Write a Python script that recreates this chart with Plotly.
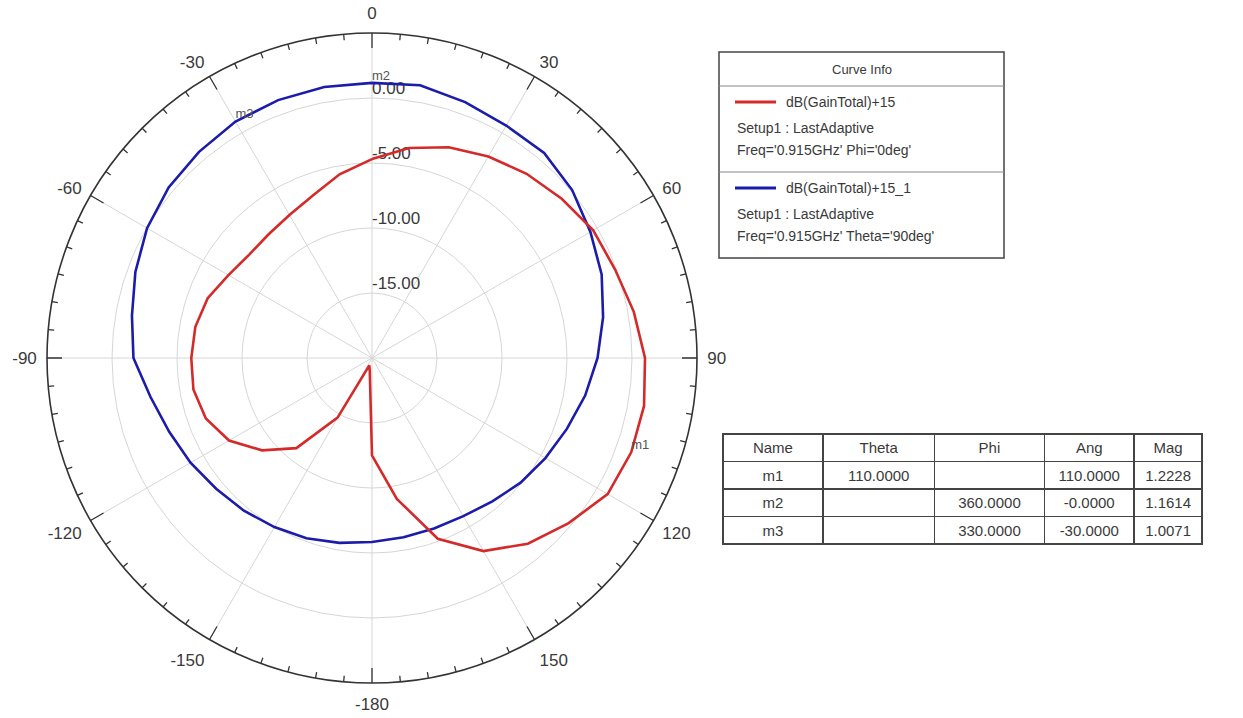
import plotly.graph_objects as go

# ---------------- data ----------------
# red curve: dB(GainTotal)+15, Phi = 0deg, swept over Theta (deg)
red_theta = [0, 10, 20, 30, 40, 50, 60, 70, 80, 90, 100, 110, 120, 130, 140, 150, 160, 170, 180,
             190, 200, 210, 220, 230, 240, 250, 260, 270, 280, 290, 300, 310, 320, 330, 340, 350, 360]
red_db = [-4.7, -3.6, -2.75, -2.1, -1.5, -0.95, -0.35, -0.1, 0.45, 1.0, 1.25, 1.22, 0.93, -0.25, -1.35,
          -2.85, -5.2, -9.0, -12.5, -19.0, -19.4, -14.7, -10.95, -8.95, -7.3, -6.4, -6.05, -6.1, -6.2,
          -6.55, -7.25, -7.65, -7.6, -7.3, -6.7, -5.65, -4.7]

# blue curve: dB(GainTotal)+15_1, Theta = 90deg, swept over Phi (deg)
blue_phi = [0, 10, 20, 30, 40, 50, 60, 70, 80, 90, 100, 110, 120, 130, 140, 150, 160, 170, 180,
            190, 200, 210, 220, 230, 240, 250, 260, 270, 280, 290, 300, 310, 320, 330, 340, 350, 360]
blue_db = [1.16, 1.3, 0.95, 0.65, 0.6, 0.1, -0.6, -1.2, -1.95, -2.65, -3.35, -4.05, -4.6, -5.08, -5.6,
           -5.95, -6.05, -6.0, -5.85, -5.56, -5.25, -4.98, -4.67, -4.35, -3.88, -3.4, -2.7, -1.65,
           -1.25, -0.63, -0.02, 0.42, 0.7, 1.0, 1.11, 1.17, 1.16]

angle_ticks = [0, 30, 60, 90, 120, 150, 180, 210, 240, 270, 300, 330]
angle_labels = ["0", "30", "60", "90", "120", "150", "-180", "-150", "-120", "-90", "-60", "-30"]
minor_step = 5
r_range = [-20, 5]
r_ticks = [-15, -10, -5, 0]
r_labels = ["-15.00", "-10.00", "-5.00", "0.00"]

marker_names = ["m1", "m2", "m3"]
marker_ang = [110, 0, -30]
marker_mag = [1.2228, 1.1614, 1.0071]

legend_header = "Curve Info"
legend_names = ["dB(GainTotal)+15", "dB(GainTotal)+15_1"]
legend_line2 = ["Setup1 : LastAdaptive", "Setup1 : LastAdaptive"]
legend_line3 = ["Freq='0.915GHz' Phi='0deg'", "Freq='0.915GHz' Theta='90deg'"]

table_header = ["Name", "Theta", "Phi", "Ang", "Mag"]
table_name = ["m1", "m2", "m3"]
table_theta = ["110.0000", "", ""]
table_phi = ["", "360.0000", "330.0000"]
table_ang = ["110.0000", "-0.0000", "-30.0000"]
table_mag = ["1.2228", "1.1614", "1.0071"]

# ---------------- styling ----------------
W, H = 1243, 718
RED = "#d42a2a"
BLUE = "#1c1caa"
TXT = "#3a3a3a"
GRID = "#d6d6d6"
FONT = "Liberation Sans, Arial, sans-serif"


def px(x):
    return x / W


def py(y):
    return 1 - y / H


cx, cy, R = 372, 358, 325
span = r_range[1] - r_range[0]

fig = go.Figure()

# angular ticks (minor every 5 deg, major every 30 deg), pointing inward
mt_theta, mt_r = [], []
for a in range(0, 360, minor_step):
    ln = 15.0 if a % 30 == 0 else 6.0
    mt_theta += [a, a, None]
    mt_r += [r_range[1], r_range[1] - span * ln / R, None]
fig.add_trace(go.Scatterpolar(theta=mt_theta, r=mt_r, mode="lines",
                              line=dict(color="#333333", width=1.3),
                              hoverinfo="skip", showlegend=False, cliponaxis=False))

# radial tick labels, sitting on their rings along the 0-deg spoke
fig.add_trace(go.Scatterpolar(theta=[0] * len(r_ticks), r=r_ticks, mode="text",
                              text=r_labels, textposition="top right",
                              marker=dict(size=0),
                              textfont=dict(family=FONT, size=17, color=TXT),
                              hoverinfo="skip", showlegend=False, cliponaxis=False))

fig.add_trace(go.Scatterpolar(theta=blue_phi, r=blue_db, mode="lines",
                              line=dict(color=BLUE, width=2.6), name=legend_names[1],
                              showlegend=False))
fig.add_trace(go.Scatterpolar(theta=red_theta, r=red_db, mode="lines",
                              line=dict(color=RED, width=2.6), name=legend_names[0],
                              showlegend=False))

fig.add_trace(go.Scatterpolar(theta=marker_ang, r=marker_mag, mode="text",
                              text=marker_names, textposition="top right",
                              textfont=dict(family=FONT, size=13, color="#555555"),
                              hoverinfo="skip", showlegend=False, cliponaxis=False))

fig.update_layout(
    width=W, height=H,
    margin=dict(l=0, r=0, t=0, b=0),
    paper_bgcolor="white",
    showlegend=False,
    polar=dict(
        domain=dict(x=[px(cx - R), px(cx + R)], y=[py(cy + R), py(cy - R)]),
        bgcolor="white",
        angularaxis=dict(
            rotation=90, direction="clockwise",
            tickmode="array", tickvals=angle_ticks, ticktext=angle_labels,
            ticks="outside", ticklen=6, tickcolor="rgba(0,0,0,0)",
            showline=True, linecolor="#333333", linewidth=1.6,
            showgrid=True, gridcolor=GRID, gridwidth=1,
            tickfont=dict(family=FONT, size=17, color=TXT),
        ),
        radialaxis=dict(
            range=r_range, tickmode="array", tickvals=r_ticks,
            angle=90, showticklabels=False, showline=False, ticks="",
            showgrid=True, gridcolor=GRID, gridwidth=1,
        ),
    ),
)

# ---------------- curve info box ----------------
bx0, bx1, by0, by1 = 719, 1004, 52, 258
div1, div2 = 86, 172
shapes = [
    dict(type="rect", xref="paper", yref="paper", x0=px(bx0), x1=px(bx1), y0=py(by1), y1=py(by0),
         line=dict(color="#444444", width=1.5), fillcolor="white", layer="below"),
    dict(type="line", xref="paper", yref="paper", x0=px(bx0), x1=px(bx1), y0=py(div1), y1=py(div1),
         line=dict(color="#888888", width=1)),
    dict(type="line", xref="paper", yref="paper", x0=px(bx0), x1=px(bx1), y0=py(div2), y1=py(div2),
         line=dict(color="#888888", width=1)),
]
annotations = [dict(text=legend_header, x=px((bx0 + bx1) / 2), y=py(69), xref="paper", yref="paper",
                    showarrow=False, xanchor="center", yanchor="middle",
                    font=dict(family=FONT, size=13, color=TXT))]
entry_y = [(102, 128, 150), (188, 214, 236)]
for i, col in enumerate([RED, BLUE]):
    y1, y2, y3 = entry_y[i]
    shapes.append(dict(type="line", xref="paper", yref="paper", x0=px(735), x1=px(776),
                       y0=py(y1), y1=py(y1), line=dict(color=col, width=3)))
    annotations.append(dict(text=legend_names[i], x=px(784), y=py(y1), xref="paper", yref="paper",
                            showarrow=False, xanchor="left", yanchor="middle",
                            font=dict(family=FONT, size=14, color=TXT)))
    annotations.append(dict(text=legend_line2[i], x=px(735), y=py(y2), xref="paper", yref="paper",
                            showarrow=False, xanchor="left", yanchor="middle",
                            font=dict(family=FONT, size=14, color=TXT)))
    annotations.append(dict(text=legend_line3[i], x=px(735), y=py(y3), xref="paper", yref="paper",
                            showarrow=False, xanchor="left", yanchor="middle",
                            font=dict(family=FONT, size=14, color=TXT)))

# ---------------- marker table ----------------
tx0, tx1, ty0, ty1 = 723, 1203, 434, 545
fig.add_trace(go.Table(
    domain=dict(x=[px(tx0), px(tx1)], y=[py(ty1), py(ty0)]),
    columnwidth=[100, 112, 110, 90, 68],
    header=dict(values=table_header, align="center", height=27.5,
                line=dict(color="#444444", width=1.5), fill=dict(color="white"),
                font=dict(family=FONT, size=15, color=TXT)),
    cells=dict(values=[table_name, table_theta, table_phi, table_ang, table_mag],
               align="center", height=27.5,
               line=dict(color="#444444", width=1.5), fill=dict(color="white"),
               font=dict(family=FONT, size=15, color=TXT)),
))

fig.update_layout(shapes=shapes, annotations=annotations)
# remove the default 8px page margin so the figure fills the window exactly
fig.write_html("out.html", config={"displayModeBar": False},
               post_script="document.body.style.margin='0px';")
